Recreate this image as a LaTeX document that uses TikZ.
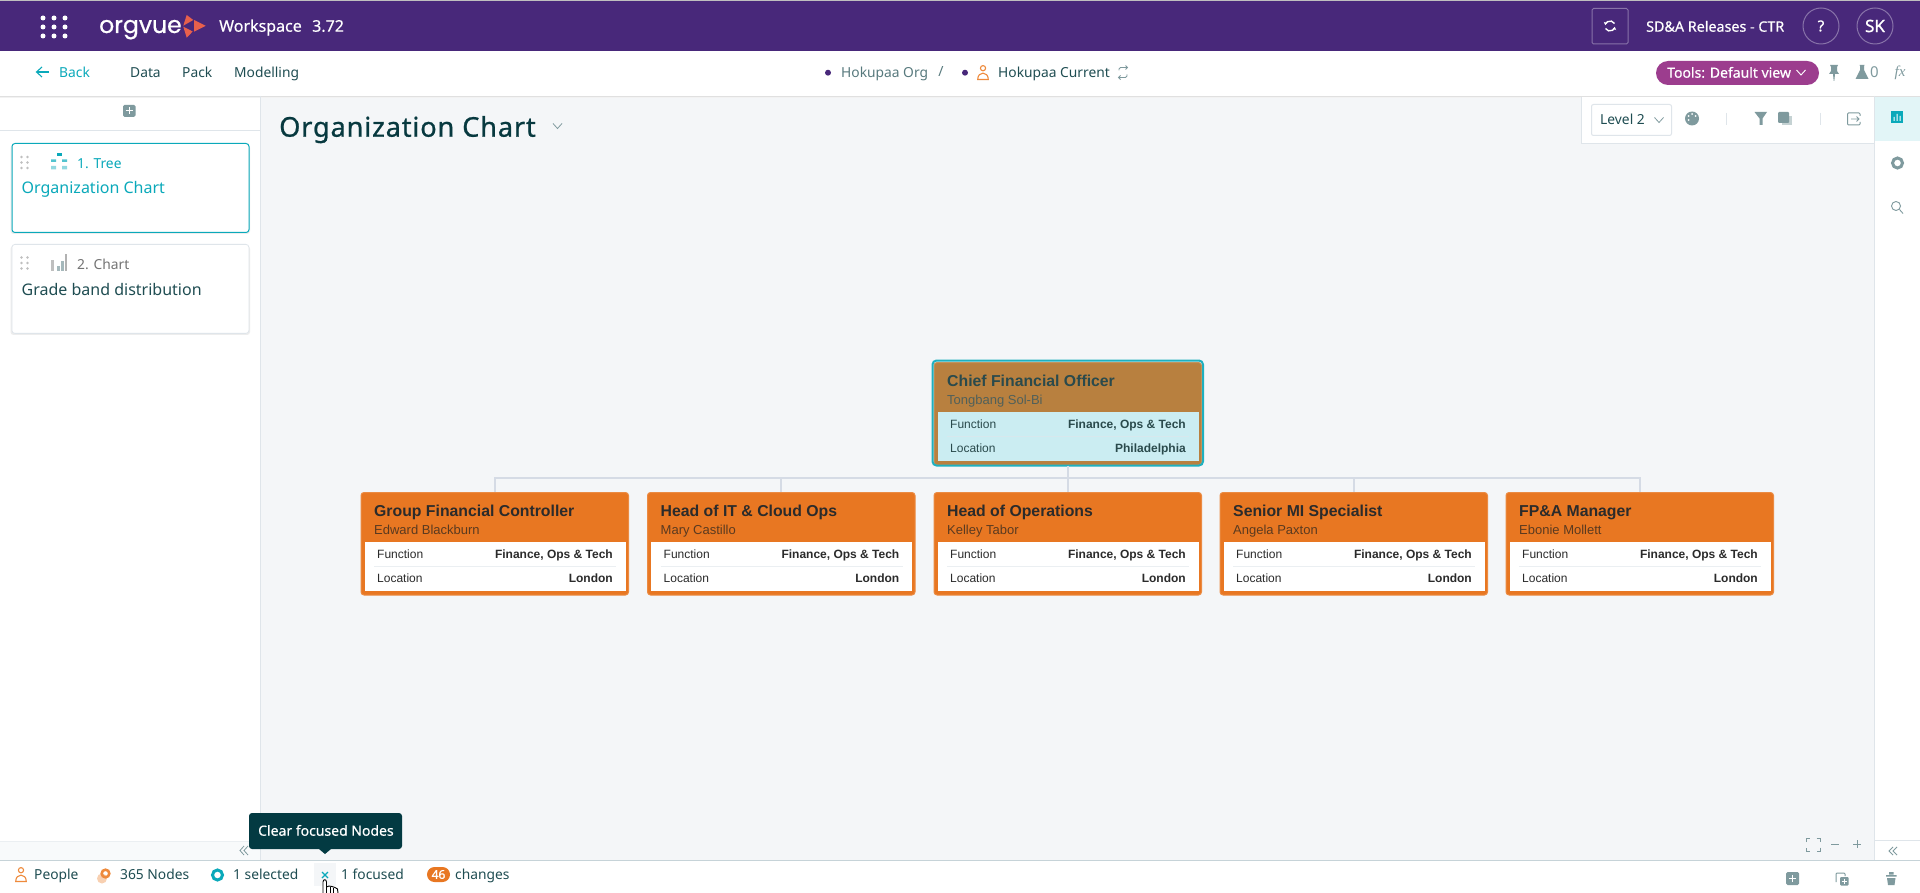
\documentclass[tikz,border=0pt]{standalone}
\usepackage{fontspec}
\usetikzlibrary{arrows.meta}
\setmainfont{Noto Sans}
\newfontfamily\arialf{Liberation Sans}
\newfontfamily\serifit{Liberation Serif}
\newfontfamily\logof[FakeBold=0.8]{Poppins}
\newfontfamily\uimed[FakeBold=0.4]{Noto Sans}
\newfontfamily\uibold[FakeBold=1]{Noto Sans}
\newfontfamily\titlef[FakeBold=0.8,LetterSpace=3]{Noto Sans}
\newcommand\pxs[1]{\fontsize{#1}{#1}\selectfont}
\definecolor{purplebar}{HTML}{48287A}
\definecolor{pagebg}{HTML}{F4F6F8}
\definecolor{teal}{HTML}{0AA9BA}
\definecolor{ink}{HTML}{1F4D52}
\definecolor{deepink}{HTML}{07393F}
\definecolor{greyic}{HTML}{7F9A9E}
\definecolor{lightline}{HTML}{DFE5EA}
\definecolor{bottomline}{HTML}{C6D3D8}
\definecolor{orgorange}{HTML}{E87722}
\definecolor{orgrim}{HTML}{EC7D2E}
\definecolor{cfobrown}{HTML}{B8803F}
\definecolor{cfopanel}{HTML}{CBEDF2}
\definecolor{cforing}{HTML}{1EB0BF}
\definecolor{conn}{HTML}{D5DBE5}
\definecolor{pill}{HTML}{9C3D8E}
\definecolor{tip}{HTML}{033A42}
\definecolor{logored}{HTML}{E8604C}
\definecolor{peopleor}{HTML}{EE8A3C}
\definecolor{cfotitle}{HTML}{2A4A4C}
\definecolor{cfoname}{HTML}{50605A}
\definecolor{ortitle}{HTML}{2B2B2B}
\definecolor{orname}{HTML}{5A3A20}
\tikzset{
  lbl/.style={inner sep=0pt,anchor=mid west,text=ink,font=\pxs{13.8},yshift=-3pt},
  lblc/.style={inner sep=0pt,anchor=mid},
  connector/.style={draw=conn,line width=2pt},
}
\newcommand\orgcard[4]{%
  \node[inner sep=0pt,anchor=north west,minimum width=267.5pt,minimum height=102.5pt,fill=#4,draw=#4!85!white,line width=1pt,rounded corners=3pt] (#1) at (#2,#3) {};
}
\newcommand\cardinner[9]{%
  \pgfmathsetmacro\xa{#2+3.5}\pgfmathsetmacro\xb{#2+264.5}
  \pgfmathsetmacro\ya{#3+50}\pgfmathsetmacro\yb{#3+99}
  \pgfmathsetmacro\xs{#2+13}\pgfmathsetmacro\xt{#2+255}
  \pgfmathsetmacro\ys{#3+74}
  \pgfmathsetmacro\xl{#2+16}\pgfmathsetmacro\xr{#2+252}
  \fill[#7] (\xa,\ya) rectangle (\xb,\yb);
  \draw[lightline,line width=.6pt,opacity=.6] (\xs,\ys) -- (\xt,\ys);
  \node[inner sep=0pt,anchor=mid west,text=#8,font=\arialf\bfseries\pxs{15.8},yshift=-3.5pt] (#1-title) at (\xs,#3+18.7) {#4};
  \node[inner sep=0pt,anchor=mid west,text=#9,font=\arialf\pxs{13},yshift=-2.5pt] (#1-name) at (\xs,#3+37) {#5};
  \node[inner sep=0pt,anchor=mid west,text=#8,font=\arialf\pxs{12},yshift=-.7pt] (#1-fl) at (\xl,#3+63) {Function};
  \node[inner sep=0pt,anchor=mid east,text=#8,font=\arialf\bfseries\pxs{12},yshift=-.7pt] (#1-fv) at (\xr,#3+63) {Finance, Ops \& Tech};
  \node[inner sep=0pt,anchor=mid west,text=#8,font=\arialf\pxs{12},yshift=-.7pt] (#1-ll) at (\xl,#3+87) {Location};
  \node[inner sep=0pt,anchor=mid east,text=#8,font=\arialf\bfseries\pxs{12},yshift=-.7pt] (#1-lv) at (\xr,#3+87) {#6};
}
\newcommand\iconperson[3]{\begin{scope}[shift={(#1,#2)},draw=#3,line width=1.1pt]
  \draw (0,-4.3) circle[radius=2.6pt];
  \draw (-5.3,7) .. controls (-5.3,-1.5) and (5.3,-1.5) .. (5.3,7) -- cycle;
\end{scope}}
\newcommand\gripdots[2]{\begin{scope}[shift={(#1,#2)}]
  \foreach \gx in {0,6}\foreach \gy in {0,5.5,11}{\fill[black!25] (\gx,\gy) circle[radius=1.4pt];}
\end{scope}}
\newcommand\chevdown[3]{\draw[#3,line width=.8pt] (#1-4.5,#2-2.5) -- (#1,#2+2.5) -- (#1+4.5,#2-2.5);}
\begin{document}
\begin{tikzpicture}[x=1pt,y=-1pt]
\useasboundingbox (0,0) rectangle (1920,893);
% backdrop
\fill[pagebg] (0,0) rectangle (1920,893);
\fill[white] (0,0) rectangle (260,860);
\fill[white] (1874,96) rectangle (1920,860);
\fill[white] (0,51) rectangle (1920,96);
\fill[black!12] (0,96) rectangle (1920,97);
\fill[black!5] (0,97) rectangle (1920,98);
\fill[black!25] (0,0) rectangle (1920,1);
\fill[purplebar] (0,1) rectangle (1920,51);
% top bar
\foreach \dx in {43,54,65}\foreach \dy in {18,27,36}{\fill[white] (\dx,\dy) circle[radius=2.5pt];}
\node[inner sep=0pt,anchor=base west,text=white,font=\logof\pxs{23.5}] (brand) at (99,33) {orgvue};
\fill[logored] (186.7,15) -- (193.3,20) -- (183.3,25.7) -- cycle;
\fill[logored] (183.3,26.7) -- (192.7,31.5) -- (186.7,37.7) -- cycle;
\fill[logored] (194,20) -- (205.7,25.8) -- (194,31.7) -- cycle;
\node[lbl,text=white,font=\uimed\pxs{16}] (wkspace) at (219,26) {Workspace};
\node[lbl,text=white,font=\uimed\pxs{16}] (wkver) at (312,26) {3.72};
\draw[white!35!purplebar,line width=1pt,rounded corners=1.5pt] (1592,8.5) rectangle (1628,44);
\begin{scope}[shift={(1610,26)},draw=white,line width=1.4pt]
  \draw[-{Stealth[length=3pt,width=4pt]}] (4.5,-2.5) arc[start angle=30,end angle=170,radius=5pt];
  \draw[-{Stealth[length=3pt,width=4pt]}] (-4.5,2.5) arc[start angle=210,end angle=350,radius=5pt];
\end{scope}
\node[lbl,text=white,font=\uimed\pxs{14.3}] (wsname) at (1646,26) {SD\&A Releases - CTR};
\node[circle,minimum size=36pt,inner sep=0pt,draw=white!35!purplebar,line width=1pt,text=white,font=\uibold\pxs{15}] (help) at (1821,26) {?};
\node[circle,minimum size=36pt,inner sep=0pt,draw=white!35!purplebar,line width=1pt,text=white,font=\uibold\pxs{17}] (user) at (1875,26) {SK};
% nav left
\draw[teal,line width=1.1pt] (49,72) -- (37,72);
\draw[teal,line width=1.1pt] (42,67) -- (36.5,72) -- (42,77);
\node[lbl,text=teal] (back) at (59,72) {Back};
\node[lbl] (navdata) at (130,72) {Data};
\node[lbl] (navpack) at (182,72) {Pack};
\node[lbl] (navmod) at (234,72) {Modelling};
% nav centre
\fill[purplebar] (828,72.7) circle[radius=3pt];
\node[lbl,text=ink!75] (orga) at (841,72) {Hokupaa Org};
\node[lblc,text=ink!75,font=\pxs{14},yshift=-2pt] (slash) at (941,72) {/};
\fill[purplebar] (965,72.7) circle[radius=3pt];
\iconperson{983}{72.5}{peopleor}
\node[lbl] (orgb) at (998,72) {Hokupaa Current};
\begin{scope}[shift={(1123,72.5)},draw=greyic,line width=.8pt]
  \draw[rounded corners=1.5pt] (-4,-2) -- (-4,-5) -- (4.5,-5);
  \draw[rounded corners=1.5pt] (4,2) -- (4,5) -- (-4.5,5);
  \draw (2.5,-7) -- (4.5,-5) -- (2.5,-3);
  \draw (-2.5,7) -- (-4.5,5) -- (-2.5,3);
\end{scope}
% nav right
\node[inner sep=0pt,fill=pill,rounded corners=12pt,minimum width=163pt,minimum height=24pt] (toolpill) at (1737.5,73) {};
\node[lbl,text=white,font=\uimed\pxs{14}] (toolstxt) at (1667,72) {Tools: Default view};
\draw[white,line width=.9pt] (1796.5,70) -- (1801,75) -- (1805.5,70);
\fill[greyic] (1830,65) -- (1838,65) -- (1837,67) -- (1837,71) -- (1839,74) -- (1835,74) -- (1834.3,81) -- (1833.7,81) -- (1833,74) -- (1829,74) -- (1831,71) -- (1831,67) -- cycle;
\fill[greyic] (1859.5,65) -- (1864.5,65) -- (1864,66) -- (1864,70) -- (1868.5,79) -- (1855.5,79) -- (1860,70) -- (1860,66) -- cycle;
\node[lbl,text=greyic,font=\pxs{15}] (flaskn) at (1870,72) {0};
\node[lblc,text=greyic,font=\serifit\itshape\pxs{15},yshift=-2pt] (fxlbl) at (1900,72) {fx};
% side panel
\fill[lightline] (0,130.5) rectangle (260,131.5);
\draw[lightline,line width=.7pt] (260,96) -- (260,860);
\fill[greyic,rounded corners=1.5pt] (123,105) rectangle (135.5,117);
\draw[white,line width=1pt] (125.5,111) -- (133,111) (129.2,107.5) -- (129.2,114.5);
% cards
\fill[black!7,rounded corners=3pt] (10.5,145) rectangle (250,234);
\node[inner sep=0pt,anchor=north west,minimum width=237pt,minimum height=89pt,draw=teal,fill=white,line width=1pt,rounded corners=3pt] (card1) at (11.5,143) {};
\gripdots{21.5}{157}
\begin{scope}[shift={(59,161.5)}]
  \fill[teal] (-2.5,-8.5) rectangle (2.5,-5.5);
  \fill[teal!70] (-8,-2) rectangle (-3,0.5) (3,-2) rectangle (8,0.5);
  \fill[teal!45] (-8,4.5) rectangle (-3,8) (3,4.5) rectangle (8,8);
\end{scope}
\node[lbl,text=teal] (c1num) at (77,163) {1. Tree};
\node[lbl,text=teal,font=\pxs{16},yshift=-1.5pt] (c1name) at (21.5,186) {Organization Chart};
\fill[black!7,rounded corners=3pt] (10.5,246) rectangle (250,335);
\node[inner sep=0pt,anchor=north west,minimum width=237pt,minimum height=89pt,draw=lightline,fill=white,line width=.8pt,rounded corners=3pt] (card2) at (11.5,244) {};
\gripdots{21.5}{257.5}
\fill[black!25] (51,260) rectangle (54,271);
\fill[greyic!70] (57,266) rectangle (60,271);
\fill[greyic!70] (61,261) rectangle (63.5,271);
\fill[black!30] (65,254) rectangle (67,271);
\node[lbl,text=black!55] (c2num) at (77,264) {2. Chart};
\node[lbl,font=\pxs{16},yshift=-1.5pt] (c2name) at (21.5,288) {Grade band distribution};
% title
\node[lbl,text=deepink,font=\titlef\pxs{27.2},yshift=-5pt] (pagetitle) at (279,126) {Organization Chart};
\chevdown{557.5}{126}{greyic}
% toolbar panel
\fill[white] (1581,97) rectangle (1874,144);
\draw[lightline,line width=1pt] (1581,97) -- (1581,144) -- (1874,144);
\node[inner sep=0pt,anchor=north west,minimum width=80pt,minimum height=31pt,draw=lightline,fill=white,line width=1pt,rounded corners=2pt] (levelbox) at (1591,104) {};
\node[lbl] (leveltxt) at (1600,119) {Level 2};
\chevdown{1659}{120}{greyic}
\fill[greyic] (1692,118.5) circle[radius=7pt];
\foreach \px/\py in {1688.5/116,1692/114,1695.5/116,1688.5/120}{\fill[white] (\px,\py) circle[radius=1pt];}
\draw[lightline,line width=.8pt] (1726.5,113) -- (1726.5,125) (1820,113) -- (1820,125);
\fill[greyic] (1754.5,112) -- (1767,112) -- (1762.5,118.5) -- (1762.5,125) -- (1759.5,125) -- (1759.5,118.5) -- cycle;
\fill[greyic!45] (1782,116) rectangle (1792,125.5);
\fill[greyic,rounded corners=1pt] (1778,112) rectangle (1789,123);
\draw[greyic,line width=1pt,rounded corners=1pt] (1860,122) -- (1860,125) -- (1847.5,125) -- (1847.5,113) -- (1860,113) -- (1860,116);
\draw[greyic,line width=.9pt] (1851,119) -- (1859,119) (1856.5,116.5) -- (1859,119) -- (1856.5,121.5);
% rail
\fill[teal!12] (1874,97) rectangle (1920,141);
\draw[lightline,line width=.7pt] (1874.5,96) -- (1874.5,860);
\fill[teal] (1891,111) rectangle (1903,123);
\fill[white] (1893.5,117) rectangle (1894.5,121) (1896.5,114) rectangle (1897.5,121) (1899.5,116) rectangle (1900.5,121);
\draw[greyic,line width=3pt] (1897.5,163) circle[radius=5pt];
\draw[greyic,line width=.9pt] (1896,206) circle[radius=4.5pt];
\draw[greyic,line width=.9pt] (1899.5,209.5) -- (1903,213.5);
% cards of the chart
\coordinate (bus) at (1067,478);
\orgcard{n1}{360.5}{492}{orgorange}
\orgcard{n2}{647}{492}{orgorange}
\orgcard{n3}{933.5}{492}{orgorange}
\orgcard{n4}{1219.5}{492}{orgorange}
\orgcard{n5}{1505.5}{492}{orgorange}
\orgcard{cfo}{933.5}{362}{cfobrown}
\draw[cforing,line width=2pt,rounded corners=4pt] (932.5,360.5) rectangle (1203,465.5);
\draw[connector] (cfo.south) -- (cfo.south |- bus) -| (n1.north);
\draw[connector] (cfo.south |- bus) -| (n2.north);
\draw[connector] (cfo.south) -- (n3.north);
\draw[connector] (cfo.south |- bus) -| (n4.north);
\draw[connector] (cfo.south |- bus) -| (n5.north);
\cardinner{cfo}{934}{362}{Chief Financial Officer}{Tongbang Sol-Bi}{Philadelphia}{cfopanel}{cfotitle}{cfoname}
\cardinner{n1}{361}{492}{Group Financial Controller}{Edward Blackburn}{London}{white}{ortitle}{orname}
\cardinner{n2}{647.5}{492}{Head of IT \& Cloud Ops}{Mary Castillo}{London}{white}{ortitle}{orname}
\cardinner{n3}{934}{492}{Head of Operations}{Kelley Tabor}{London}{white}{ortitle}{orname}
\cardinner{n4}{1220}{492}{Senior MI Specialist}{Angela Paxton}{London}{white}{ortitle}{orname}
\cardinner{n5}{1506}{492}{FP\&A Manager}{Ebonie Mollett}{London}{white}{ortitle}{orname}
% bottom strip
\fill[white] (0,860) rectangle (1920,893);
\fill[pagebg!60] (0,841.5) rectangle (260,860);
\draw[lightline,line width=.6pt,opacity=.6] (0,841) -- (260,841);
\draw[lightline,line width=.6pt] (1875,840) -- (1920,840);
\fill[bottomline] (0,859.7) rectangle (1920,860.7);
\draw[greyic,line width=.8pt] (244,846) -- (240,850.5) -- (244,855) (248,846) -- (244,850.5) -- (248,855);
\draw[greyic,line width=.8pt] (1893,847) -- (1889,851) -- (1893,855) (1897,847) -- (1893,851) -- (1897,855);
% tooltip
\fill[tip,rounded corners=3pt] (249,813) rectangle (402,849);
\fill[tip] (319,849) -- (325,854) -- (331,849) -- cycle;
\node[lbl,text=white,font=\uimed\pxs{14}] (tiptxt) at (258,830) {Clear focused Nodes};
% status bar
\iconperson{21}{874.5}{peopleor}
\node[lbl] (st1) at (34,874) {People};
\fill[peopleor!40] (102,878.5) circle[radius=5pt];
\draw[peopleor,line width=2.6pt] (105.5,873.5) circle[radius=3.8pt];
\node[lbl] (st2) at (120,874) {365 Nodes};
\draw[teal,line width=3pt] (217.5,875) circle[radius=5pt];
\node[lbl] (st3) at (233,874) {1 selected};
\fill[pagebg] (314,863) rectangle (336,886);
\draw[teal,line width=1.2pt] (322,872) -- (328,878) (328,872) -- (322,878);
\node[lbl] (st4) at (341,874) {1 focused};
\node[inner sep=0pt,fill=orgorange,rounded corners=7.5pt,minimum width=23pt,minimum height=15pt,text=white,font=\uibold\pxs{12}] (badge) at (438.5,874.5) {46};
\node[lbl] (st5) at (455,874) {changes};
% cursor
\fill[white] (323,881) -- (327,881) -- (327,886) -- (338,889) -- (338,893) -- (323,893) -- cycle;
\draw[black,line width=.9pt] (323,893) -- (323,882) .. controls (323,879) and (326.5,879) .. (326.5,882) -- (326.5,893);
\draw[black,line width=.9pt] (326.5,887) -- (329,886) -- (332,886.5) -- (335,887.5) -- (337.5,889) -- (338,893);
\draw[black,line width=.7pt] (330,887) -- (330,893) (333.5,887.5) -- (333.5,893);
% bottom right
\draw[greyic,line width=1pt] (1806,842) -- (1806,838.5) -- (1809.5,838.5) (1816.5,838.5) -- (1820,838.5) -- (1820,842) (1820,847.5) -- (1820,851) -- (1816.5,851) (1809.5,851) -- (1806,851) -- (1806,847.5);
\draw[greyic,line width=1pt] (1831,844) -- (1839,844);
\draw[greyic,line width=1pt] (1853,844) -- (1861,844) (1857,840) -- (1857,848);
\fill[greyic,rounded corners=1.5pt] (1786,872) rectangle (1799,885);
\draw[white,line width=1.1pt] (1789,878.5) -- (1796,878.5) (1792.5,875) -- (1792.5,882);
\draw[greyic,line width=1pt,rounded corners=1pt] (1836,882) -- (1836,873) -- (1845,873) -- (1845,876);
\fill[greyic,rounded corners=1pt] (1840,877) rectangle (1848.5,885.5);
\draw[white,line width=1pt] (1841.5,881.3) -- (1847,881.3) (1844.3,878.5) -- (1844.3,884);
\fill[greyic] (1886,875) rectangle (1896.5,876.5) (1889,872) rectangle (1893.5,874.5);
\fill[greyic] (1887,878) -- (1895.5,878) -- (1894.5,885) -- (1888,885) -- cycle;
\end{tikzpicture}
\end{document}
